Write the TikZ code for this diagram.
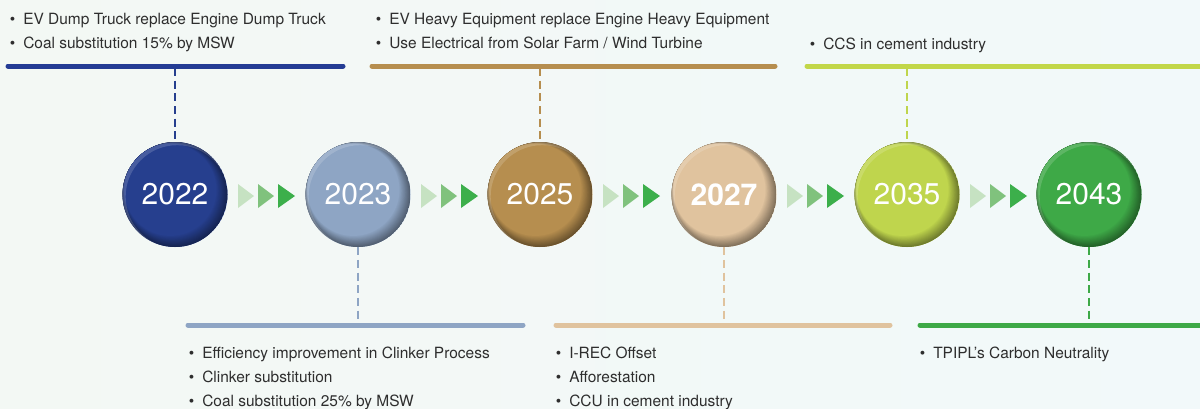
\documentclass[tikz,border=0pt]{standalone}
\usepackage{fontspec}
\setmainfont{TeX Gyre Heros}
\definecolor{bgL}{HTML}{F3F8F4}
\definecolor{bgR}{HTML}{F2F9FA}
\definecolor{txt}{HTML}{2E2E2E}
\definecolor{cNavy}{HTML}{263F8E}
\definecolor{cSlate}{HTML}{8EA5C4}
\definecolor{cGold}{HTML}{B68E4F}
\definecolor{cTan}{HTML}{E0C39E}
\definecolor{cLime}{HTML}{BFD54D}
\definecolor{cGreen}{HTML}{3EA947}
\definecolor{tA}{HTML}{C6E2C2}
\definecolor{tB}{HTML}{80C27D}
\definecolor{tC}{HTML}{3CAF4B}
\colorlet{basecol}{cNavy}
\colorlet{darkcol}{cNavy!60!black}
\newcommand\bul{\llap{\textbullet\hspace{6pt}}}
\begin{document}
\begin{tikzpicture}[x=0.75pt,y=-0.75pt,
  yr/.style={circle, inner sep=0pt, minimum size=78.75pt, text=white,
    font=\fontsize{22.5}{24}\selectfont,
    /utils/exec={\colorlet{basecol}{#1}\colorlet{darkcol}{#1!58!black}},
    fill=basecol,
    path picture={
      \foreach \k in {0,...,14}{
        \pgfmathtruncatemacro\pc{\k*100/14}
        \fill[basecol!\pc!darkcol]
          ([xshift=-\k*0.245pt, yshift=\k*0.245pt]path picture bounding box.center)
          circle[radius=39.4pt-\k*0.35pt];
      }
      \fill[white, opacity=0.16, even odd rule]
          (path picture bounding box.center) circle[radius=39.5pt]
          ([xshift=1.6pt, yshift=-1.6pt]path picture bounding box.center) circle[radius=38.6pt];
    }},
  item/.style={anchor=base west, inner sep=0pt, text=txt, font=\fontsize{11.6}{13}\selectfont},
  bar/.style={line width=3.75pt, line cap=round},
  dl/.style={line width=2pt, dash pattern=on 6pt off 3.5pt}]
\shade[left color=bgL, right color=bgR] (0,0) rectangle (1200,408);
\path[use as bounding box] (0,0) rectangle (1200,408);

% circles
\node[yr=cNavy]  (c1) at (175,194.5)  {2022};
\node[yr=cSlate] (c2) at (358,194.5)  {2023};
\node[yr=cGold]  (c3) at (540,194.5)  {2025};
\node[yr=cTan]   (c4) at (724,194.5)  {\bfseries 2027};
\node[yr=cLime]  (c5) at (907,194.5)  {2035};
\node[yr=cGreen] (c6) at (1089,194.5) {2043};

% arrows
\foreach \x in {175,358,540,724,907}{
  \fill[tA] (\x+63,184) -- ++(16,12) -- ++(-16,12) -- cycle;
  \fill[tB] (\x+83,184) -- ++(16,12) -- ++(-16,12) -- cycle;
  \fill[tC] (\x+103,184) -- ++(17,12) -- ++(-17,12) -- cycle;
}

% top bars
\draw[bar, cNavy!95!blue] (8,66) -- (343,66);
\draw[bar, cGold] (372,66) -- (775,66);
\draw[bar, cLime!95!yellow] (807,66) -- (1205,66);
\coordinate (b1) at (175,68);
\coordinate (b3) at (540,68);
\coordinate (b5) at (907,68);
\draw[dl, cNavy] (b1) -- (c1.north);
\draw[dl, cGold] (b3) -- (c3.north);
\draw[dl, cLime] (b5) -- (c5.north);

% bottom bars
\draw[bar, cSlate] (188,325) -- (523,325);
\draw[bar, cTan] (556,325) -- (890,325);
\draw[bar, cGreen] (920,325) -- (1205,325);
\coordinate (b2) at (358,323);
\coordinate (b4) at (724,323);
\coordinate (b6) at (1089,323);
\draw[dl, cSlate] (c2.south) -- (b2);
\draw[dl, cTan] (c4.south) -- (b4);
\draw[dl, cGreen] (c6.south) -- (b6);

% texts top
\node[item] (t11) at (23,24) {\bul EV Dump Truck replace Engine Dump Truck};
\node[item] (t12) at (23,48) {\bul Coal substitution 15\% by MSW};
\node[item] (t31) at (389,24) {\bul EV Heavy Equipment replace Engine Heavy Equipment};
\node[item] (t32) at (389,48) {\bul Use Electrical from Solar Farm / Wind Turbine};
\node[item] (t51) at (823,49) {\bul CCS in cement industry};

% texts bottom
\node[item] (t21) at (202,358) {\bul Efficiency improvement in Clinker Process};
\node[item] (t22) at (202,382) {\bul Clinker substitution};
\node[item] (t23) at (202,406) {\bul Coal substitution 25\% by MSW};
\node[item] (t41) at (569,358) {\bul I-REC Offset};
\node[item] (t42) at (569,382) {\bul Afforestation};
\node[item] (t43) at (569,406) {\bul CCU in cement industry};
\node[item] (t61) at (933,358) {\bul TPIPL’s Carbon Neutrality};
\end{tikzpicture}
\end{document}
